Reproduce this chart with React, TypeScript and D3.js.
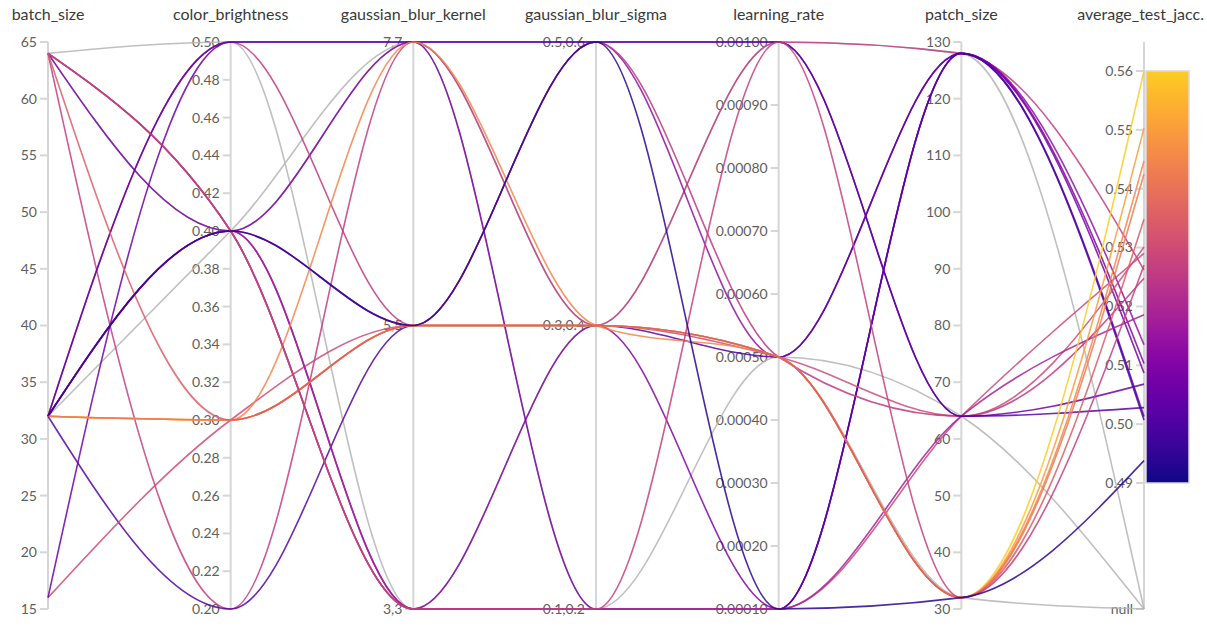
import React from "react";
import * as d3 from "d3";

// ---- data ----
const dimensions = [
  "batch_size",
  "color_brightness",
  "gaussian_blur_kernel",
  "gaussian_blur_sigma",
  "learning_rate",
  "patch_size",
  "average_test_jacc.",
];
const kernelCats = ["3,3", "5,5", "7,7"];
const sigmaCats = ["0.1,0.2", "0.3,0.4", "0.5,0.6"];

const batchTicks = [15, 20, 25, 30, 35, 40, 45, 50, 55, 60, 65];
const brightnessTicks = [0.2, 0.22, 0.24, 0.26, 0.28, 0.3, 0.32, 0.34, 0.36, 0.38, 0.4, 0.42, 0.44, 0.46, 0.48, 0.5];
const lrTicks = [0.0001, 0.0002, 0.0003, 0.0004, 0.0005, 0.0006, 0.0007, 0.0008, 0.0009, 0.001];
const patchTicks = [30, 40, 50, 60, 70, 80, 90, 100, 110, 120, 130];
const jaccTicks = [0.49, 0.5, 0.51, 0.52, 0.53, 0.54, 0.55, 0.56];

const batchSize = [32, 64, 32, 32, 64, 32, 64, 64, 16, 64, 32, 32, 16, 32, 64, 32, 32, 32, 32, 64, 64, 32];
const colorBrightness = [0.4, 0.2, 0.4, 0.4, 0.4, 0.2, 0.4, 0.4, 0.3, 0.4, 0.5, 0.4, 0.5, 0.5, 0.5, 0.3, 0.3, 0.3, 0.3, 0.3, 0.4, 0.4];
const blurKernel = ["7,7", "7,7", "5,5", "3,3", "7,7", "5,5", "3,3", "7,7", "5,5", "3,3", "5,5", "3,3", "7,7", "7,7", "3,3", "5,5", "5,5", "7,7", "5,5", "5,5", "3,3", "5,5"];
const blurSigma = ["0.3,0.4", "0.3,0.4", "0.5,0.6", "0.3,0.4", "0.1,0.2", "0.3,0.4", "0.1,0.2", "0.1,0.2", "0.3,0.4", "0.1,0.2", "0.5,0.6", "0.1,0.2", "0.5,0.6", "0.5,0.6", "0.3,0.4", "0.3,0.4", "0.3,0.4", "0.3,0.4", "0.3,0.4", "0.3,0.4", "0.1,0.2", "0.5,0.6"];
const learningRate = [0.001, 0.001, 0.0005, 0.0001, 0.0001, 0.0005, 0.0001, 0.0005, 0.0005, 0.0001, 0.0005, 0.0001, 0.001, 0.001, 0.0005, 0.0005, 0.0005, 0.0005, 0.0005, 0.0005, 0.001, 0.0001];
const patchSize = [128, 128, 128, 128, 128, 128, 128, 64, 64, 64, 64, 64, 64, 64, 32, 32, 32, 32, 32, 32, 32, 32];
const testJaccard: (number | null)[] = [null, 0.5262, 0.5135, 0.5103, 0.5087, 0.5013, 0.5007, null, 0.5301, 0.529, 0.5248, 0.5186, 0.5068, 0.5028, null, 0.56, 0.5503, 0.5447, 0.5425, 0.5348, 0.527, 0.4938];

// ---- layout ----
const W = 1207;
const H = 628;
const TOP = 42;
const BOTTOM = 609;
const FONT = "Lato, 'Open Sans', sans-serif";

const x = d3.scalePoint<string>().domain(dimensions).range([48, 1144]);
const yBatch = d3.scaleLinear().domain([15, 65]).range([BOTTOM, TOP]);
const yBright = d3.scaleLinear().domain([0.2, 0.5]).range([BOTTOM, TOP]);
const yKernel = d3.scalePoint<string>().domain(kernelCats).range([BOTTOM, TOP]);
const ySigma = d3.scalePoint<string>().domain(sigmaCats).range([BOTTOM, TOP]);
const yLr = d3.scaleLinear().domain([0.0001, 0.001]).range([BOTTOM, TOP]);
const yPatch = d3.scaleLinear().domain([30, 130]).range([BOTTOM, TOP]);
const yJacc = d3.scaleLinear().domain([0.49, 0.56]).range([483, 71]);
const NULL_Y = BOTTOM;

const colorT = d3.scaleLinear().domain([0.49, 0.56]).range([0, 0.9]).clamp(true);
const colorOf = (v: number | null) => (v == null ? "#b5b5b5" : d3.interpolatePlasma(colorT(v)));

const lineGen = d3
  .line<[number, number]>()
  .x((d) => d[0])
  .y((d) => d[1])
  .curve(d3.curveMonotoneX);

type AxisSpec = { ticks: { y: number; label: string }[] };
const fmt2 = d3.format(".2f");
const fmt5 = d3.format(".5f");

const axes: AxisSpec[] = [
  { ticks: batchTicks.map((t) => ({ y: yBatch(t), label: String(t) })) },
  { ticks: brightnessTicks.map((t) => ({ y: yBright(t), label: fmt2(t) })) },
  { ticks: kernelCats.map((t) => ({ y: yKernel(t) as number, label: t })) },
  { ticks: sigmaCats.map((t) => ({ y: ySigma(t) as number, label: t })) },
  { ticks: lrTicks.map((t) => ({ y: yLr(t), label: fmt5(t) })) },
  { ticks: patchTicks.map((t) => ({ y: yPatch(t), label: String(t) })) },
  {
    ticks: [
      ...jaccTicks.map((t) => ({ y: yJacc(t), label: fmt2(t) })),
      { y: NULL_Y, label: "null" },
    ],
  },
];

export default function App() {
  const runs = batchSize.map((_, i) => {
    const ys = [
      yBatch(batchSize[i]),
      yBright(colorBrightness[i]),
      yKernel(blurKernel[i]) as number,
      ySigma(blurSigma[i]) as number,
      yLr(learningRate[i]),
      yPatch(patchSize[i]),
      testJaccard[i] == null ? NULL_Y : yJacc(testJaccard[i] as number),
    ];
    const pts = ys.map((y, j) => [x(dimensions[j]) as number, y] as [number, number]);
    return { d: lineGen(pts) || "", color: colorOf(testJaccard[i]), isNull: testJaccard[i] == null };
  });

  const gradStops = d3.range(0, 1.0001, 0.05);
  const barX = 1146;
  const barW = 43;
  const barTop = yJacc(0.56);
  const barBottom = yJacc(0.49);
  const last = dimensions.length - 1;

  return (
    <svg
      width={W}
      height={H}
      style={{ position: "absolute", left: 0, top: 0, background: "#fff" }}
    >
      <defs>
        <linearGradient id="plasmaBar" x1="0" y1="1" x2="0" y2="0">
          {gradStops.map((s) => (
            <stop key={s} offset={`${s * 100}%`} stopColor={d3.interpolatePlasma(s * 0.9)} />
          ))}
        </linearGradient>
      </defs>

      {/* axes */}
      {dimensions.map((dim, j) => {
        const ax = x(dim) as number;
        return (
          <g key={dim}>
            <line x1={ax} x2={ax} y1={TOP} y2={BOTTOM} stroke="#d6d6d6" strokeWidth={2} />
            {axes[j].ticks.map((t) => (
              <g key={t.label}>
                <line x1={ax - 8} x2={ax} y1={t.y} y2={t.y} stroke="#d6d6d6" strokeWidth={2} />
                <text
                  x={ax - 11}
                  y={t.y}
                  dy="0.35em"
                  textAnchor="end"
                  fontFamily={FONT}
                  fontSize={14}
                  fill="#606060"
                >
                  {t.label}
                </text>
              </g>
            ))}
            <text
              x={j === last ? W - 3 : ax}
              y={20}
              textAnchor={j === last ? "end" : "middle"}
              fontFamily={FONT}
              fontSize={16}
              fill="#3a3a3a"
            >
              {dim}
            </text>
          </g>
        );
      })}

      {/* run lines */}
      <g fill="none">
        {runs
          .filter((r) => r.isNull)
          .map((r, i) => (
            <path key={"n" + i} d={r.d} stroke={r.color} strokeWidth={1.6} strokeOpacity={0.85} />
          ))}
        {runs
          .filter((r) => !r.isNull)
          .map((r, i) => (
            <path key={"c" + i} d={r.d} stroke={r.color} strokeWidth={1.6} strokeOpacity={0.85} />
          ))}
      </g>

      {/* color bar */}
      <rect
        x={barX}
        y={barTop}
        width={barW}
        height={barBottom - barTop}
        fill="url(#plasmaBar)"
        stroke="#d9d9d9"
        strokeWidth={1.5}
      />
    </svg>
  );
}
